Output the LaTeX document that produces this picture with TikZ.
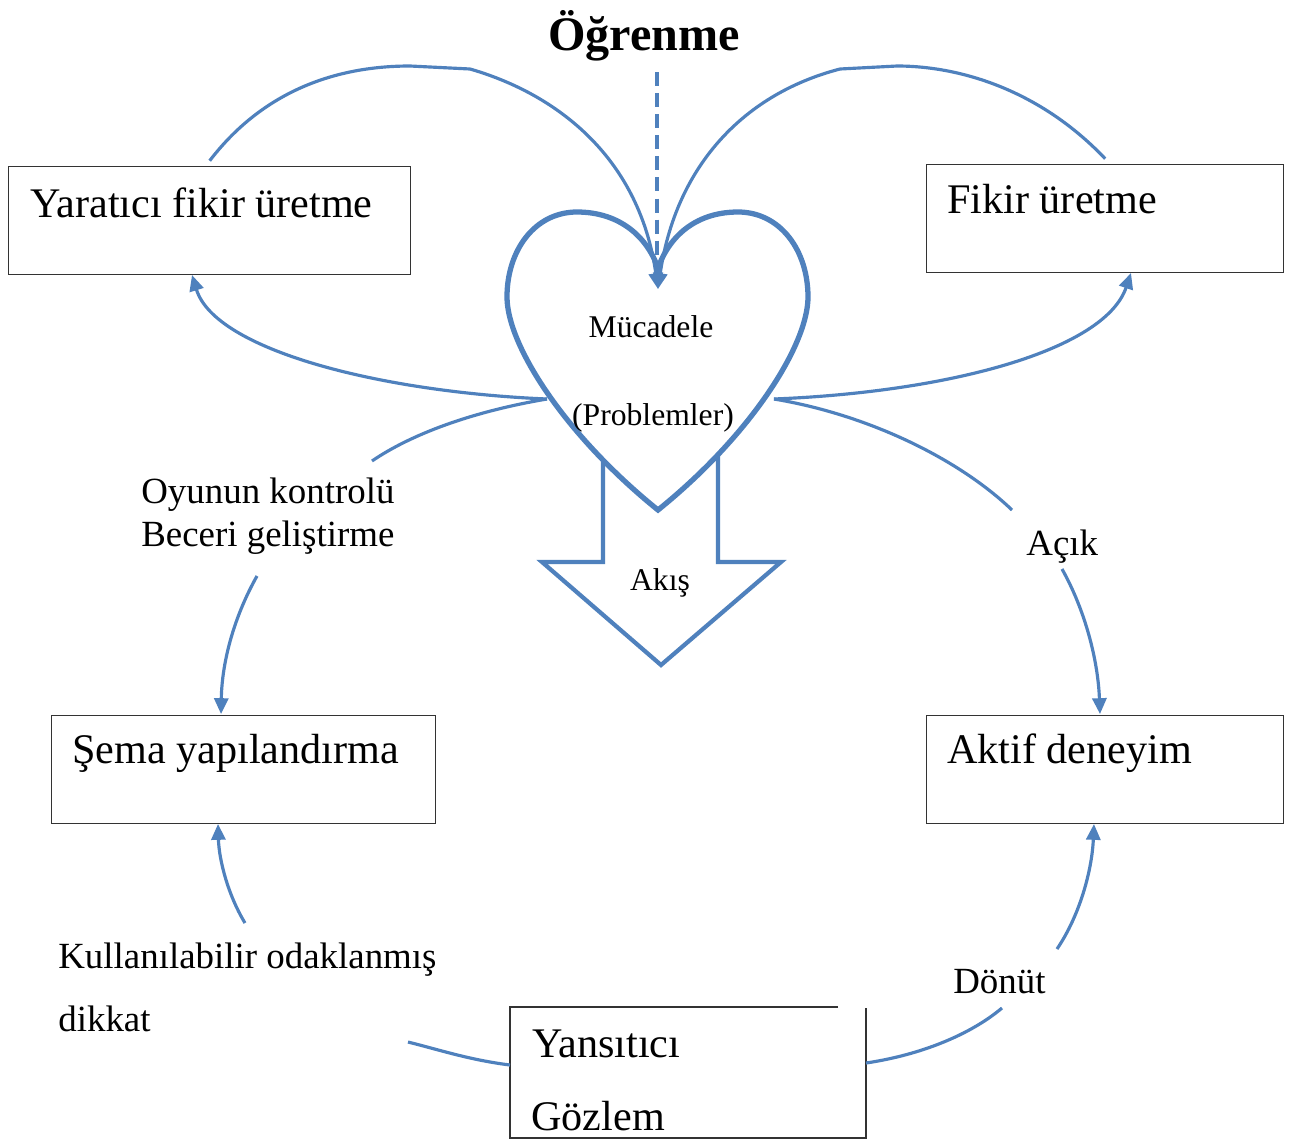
\documentclass[tikz,border=0pt]{standalone}
\usepackage{fontspec}
\setmainfont{Liberation Serif}
\usetikzlibrary{arrows.meta}
\definecolor{cblue}{RGB}{79,129,189}
\newcommand{\BoxFont}{\fontsize{24}{28}\selectfont}
\newcommand{\LabFont}{\fontsize{21}{25}\selectfont}
\newcommand{\HeartFont}{\fontsize{18}{22}\selectfont}
\newcommand{\TitleFont}{\fontsize{27.4}{32}\selectfont\bfseries}
\begin{document}
\begin{tikzpicture}[x=0.02cm,y=-0.02cm,
  boxshape/.style={draw=black!80, line width=0.8pt, inner sep=0, anchor=north west},
  boxtext/.style={anchor=base west, inner sep=0, font=\BoxFont},
  labtext/.style={anchor=base west, inner sep=0},
  hearttext/.style={anchor=base, inner sep=0, font=\HeartFont},
  conn/.style={draw=cblue, line width=1.8pt},
  arrtip/.style={-{Triangle[length=9pt,width=8pt]}},
]
\fill[white] (0,0) rectangle (1299,1140);
\useasboundingbox (0,0) rectangle (1299,1140);

% boxes
\node[boxshape, minimum width=402*0.02cm, minimum height=108*0.02cm] (yar) at (8,166) {};
\node[boxtext] (yarT) at (30,217) {Yaratıcı fikir üretme};
\node[boxshape, minimum width=357*0.02cm, minimum height=108*0.02cm] (fik) at (926,164) {};
\node[boxtext] (fikT) at (947,213) {Fikir üretme};
\node[boxshape, minimum width=384*0.02cm, minimum height=108*0.02cm] (sema) at (51,715) {};
\node[boxtext] (semaT) at (72,763) {Şema yapılandırma};
\node[boxshape, minimum width=357*0.02cm, minimum height=108*0.02cm] (aktif) at (926,715) {};
\node[boxtext] (aktifT) at (947,763) {Aktif deneyim};

% bottom box (open top-right corner as in reference)
\node[inner sep=0, anchor=north west, minimum width=356*0.02cm, minimum height=131*0.02cm] (yans) at (510,1007) {};
\draw[draw=black!80, line width=0.8pt] (838,1007) -- (510,1007) -- (510,1138) -- (866,1138) -- (866,1008);
\node[anchor=base west, inner sep=0, font=\BoxFont] (yansT) at (532,1057) {Yansıtıcı};
\node[anchor=base west, inner sep=0, font=\BoxFont] (gozT) at (531,1130) {Gözlem};

% flow arrow
\filldraw[fill=white, draw=cblue, line width=2.4pt, line join=miter]
  (603,440) -- (603,562) -- (542,562) -- (661,665) -- (781,562) -- (718,562) -- (718,440) -- cycle;

% heart
\filldraw[fill=white, draw=cblue, line width=3pt, line join=miter]
  (658,268) .. controls (645,232) and (615,212) .. (577,212)
  .. controls (535,212) and (507,250) .. (507,297)
  .. controls (507,345) and (565,435) .. (658,510)
  .. controls (751,435) and (808,345) .. (808,297)
  .. controls (808,250) and (780,212) .. (738,212)
  .. controls (700,212) and (671,232) .. (658,268) -- cycle;
\node[hearttext] (muc) at (651,337) {Mücadele};
\node[hearttext] (prob) at (653,425) {(Problemler)};
\node[hearttext] (akis) at (660,590) {Akış};

% title
\node[anchor=base, inner sep=0, font=\TitleFont] (title) at (644,50) {Öğrenme};

% labels
\node[labtext, font=\fontsize{21}{25}\selectfont] (oyun) at (141,503)
  {\begin{tabular}[t]{@{}l@{}}Oyunun kontrolü\\Beceri geliştirme\end{tabular}};
\node[labtext, font=\LabFont] (acik) at (1026,555) {Açık};
\node[labtext, font=\LabFont] (donut) at (953,993) {Dönüt};
\node[labtext, font=\fontsize{21}{36.4}\selectfont] (kull) at (58,968)
  {\begin{tabular}[t]{@{}l@{}}Kullanılabilir odaklanmış\\dikkat\end{tabular}};

% named connector ends
\coordinate (notch) at (658,289);
\coordinate (dashTop) at (657,72);
\coordinate (dashEnd) at (657,255);
\coordinate (hL) at (547,399);
\coordinate (hR) at (774,399);
\coordinate (yarIn) at (192,275);
\coordinate (fikIn) at (1131,273);
\coordinate (oyunA) at (372,461);
\coordinate (oyunB) at (257,576);
\coordinate (semaIn) at (221,714);
\coordinate (acikA) at (1012,510);
\coordinate (acikB) at (1062,569);
\coordinate (aktifIn) at (1100,714);
\coordinate (yansR) at (866,1063);
\coordinate (donutA) at (1002,1008);
\coordinate (donutB) at (1057,949);
\coordinate (aktifOut) at (1094,824);
\coordinate (yansL) at (510,1065);
\coordinate (kullA) at (408,1042);
\coordinate (kullB) at (245,923);
\coordinate (semaOut) at (218,824);

% connectors
\draw[conn, dash pattern=on 8pt off 4pt] (dashTop) -- (dashEnd);
\draw[conn, arrtip] ([yshift=3pt]yar.north) .. controls (260,95) and (330,66) .. (410,66)
  -- (470,69) .. controls (560,95) and (640,160) .. (notch);
\draw[conn, arrtip] ([yshift=3pt]fik.north) .. controls (1040,90) and (960,66) .. (897,66)
  -- (840,69) .. controls (740,95) and (675,170) .. (notch);
\draw[conn, arrtip] (hL) .. controls (380,392) and (215,350) .. (yarIn);
\draw[conn, arrtip] (hR) .. controls (950,392) and (1105,350) .. (fikIn);
\draw[conn] (hL) .. controls (470,412) and (410,435) .. (oyunA);
\draw[conn, arrtip] (oyunB) .. controls (235,615) and (222,660) .. (semaIn);
\draw[conn] (hR) .. controls (870,415) and (960,460) .. (acikA);
\draw[conn, arrtip] (acikB) .. controls (1085,610) and (1098,660) .. (aktifIn);
\draw[conn] (yansR) .. controls (920,1055) and (970,1035) .. (donutA);
\draw[conn, arrtip] (donutB) .. controls (1080,915) and (1092,870) .. (aktifOut);
\draw[conn] (yansL) .. controls (470,1060) and (440,1050) .. (kullA);
\draw[conn, arrtip] (kullB) .. controls (228,895) and (219,860) .. (semaOut);
\end{tikzpicture}
\end{document}
